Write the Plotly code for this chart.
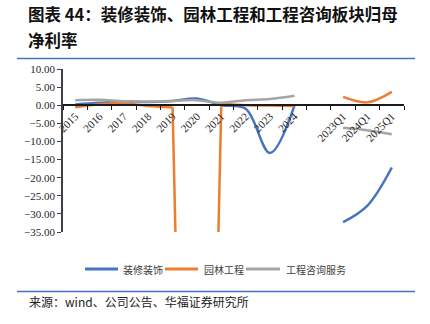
import plotly.graph_objects as go

categories = ['2015', '2016', '2017', '2018', '2019', '2020', '2021', '2022', '2023', '2024',
              ' ', '2023Q1', '2024Q1', '2025Q1']
decoration = [0.2, 0.65, 1.0, 0.9, 1.2, 1.85, 0.0, -1.0, -13.2, -0.2,
              None, -32.3, -27.7, -17.2]
landscape = [-0.55, 0.3, 0.5, -0.2, -0.6, -300.0, 0.5, 0.0, -0.1, -0.2,
             None, 2.3, 0.8, 3.7]
consulting = [1.4, 1.5, 1.1, 1.0, 1.2, 1.4, 0.7, 1.4, 1.7, 2.6,
              None, -6.2, -6.9, -8.0]
series_names = ['装修装饰', '园林工程', '工程咨询服务']
series_colors = ['#4472C4', '#ED7D31', '#A5A5A5']
y_ticks = [10, 5, 0, -5, -10, -15, -20, -25, -30, -35]

W, H = 430, 324
PL, PR, PT, PB = 63, 404, 69, 232


def px(x):
    return (x - PL) / (PR - PL)


def py(y):
    return (PB - y) / (PB - PT)


fig = go.Figure()
series = [decoration, landscape, consulting]
for name, vals, col in zip(series_names, series, series_colors):
    if name == '园林工程':
        # the extreme 2020 value is drawn with straight segments, rest smoothed
        segs = [(0, 5, 'spline'), (4, 7, 'linear'), (6, 10, 'spline'), (11, 14, 'spline')]
    else:
        segs = [(0, 10, 'spline'), (11, 14, 'spline')]
    for a, b, shp in segs:
        fig.add_trace(go.Scatter(
            x=categories[a:b], y=vals[a:b], name=name, mode='lines',
            line=dict(color=col, width=2.5, shape=shp, smoothing=1),
            showlegend=False, hoverinfo='skip',
        ))

axis_font = dict(family='Liberation Serif', size=11, color='#262626')
fig.update_layout(
    width=W, height=H,
    margin=dict(l=PL, r=W - PR, t=PT, b=H - PB),
    paper_bgcolor='white', plot_bgcolor='white',
    showlegend=False,
    xaxis=dict(type='category', categoryorder='array', categoryarray=categories,
               range=[-0.5, len(categories) - 0.5],
               anchor='free', position=py(105),
               showline=True, linecolor='#1a1a1a', linewidth=1.5,
               ticks='outside', ticklen=4, tickcolor='#1a1a1a', tickwidth=1.2,
               tickson='boundaries', tickangle=-45, tickfont=axis_font,
               showgrid=False, zeroline=False),
    yaxis=dict(range=[-35, 10], tickvals=y_ticks, tickformat='.2f',
               showline=True, linecolor='#404040', linewidth=1.5,
               ticks='outside', ticklen=4, tickcolor='#404040', tickwidth=1.2,
               tickfont=axis_font, showgrid=False, zeroline=False),
)

title_font = dict(family='Noto Sans CJK SC', size=16.5, color='#111111', weight='bold')
fig.add_annotation(xref='paper', yref='paper', x=px(27), y=py(27.5), xanchor='left', yanchor='bottom',
                   text='图表 44：装修装饰、园林工程和工程咨询板块归母', showarrow=False, font=title_font,
                   borderpad=0)
fig.add_annotation(xref='paper', yref='paper', x=px(27), y=py(27.5), xanchor='left', yanchor='top',
                   text='净利率', showarrow=False, font=title_font, borderpad=0)
fig.add_annotation(xref='paper', yref='paper', x=px(27), y=py(301), xanchor='left', yanchor='middle',
                   text='来源：wind、公司公告、华福证券研究所', showarrow=False,
                   font=dict(family='Noto Sans CJK SC', size=12, color='#222222'))
for yy in (58.5, 291.5):
    fig.add_shape(type='line', xref='paper', yref='paper', x0=px(17), x1=px(415), y0=py(yy), y1=py(yy),
                  line=dict(color='#4472C4', width=1.5))

# manual legend
leg_items = [(85, 118, 122), (165, 198, 203), (246, 280, 285)]
for (l0, l1, tx), name, col in zip(leg_items, series_names, series_colors):
    fig.add_shape(type='line', xref='paper', yref='paper', x0=px(l0), x1=px(l1), y0=py(269), y1=py(269),
                  line=dict(color=col, width=3))
    fig.add_annotation(xref='paper', yref='paper', x=px(tx), y=py(269), xanchor='left', yanchor='middle',
                       text=name, showarrow=False, borderpad=0,
                       font=dict(family='Noto Sans CJK SC', size=10, color='#404040'))

fig.write_html('out.html')
